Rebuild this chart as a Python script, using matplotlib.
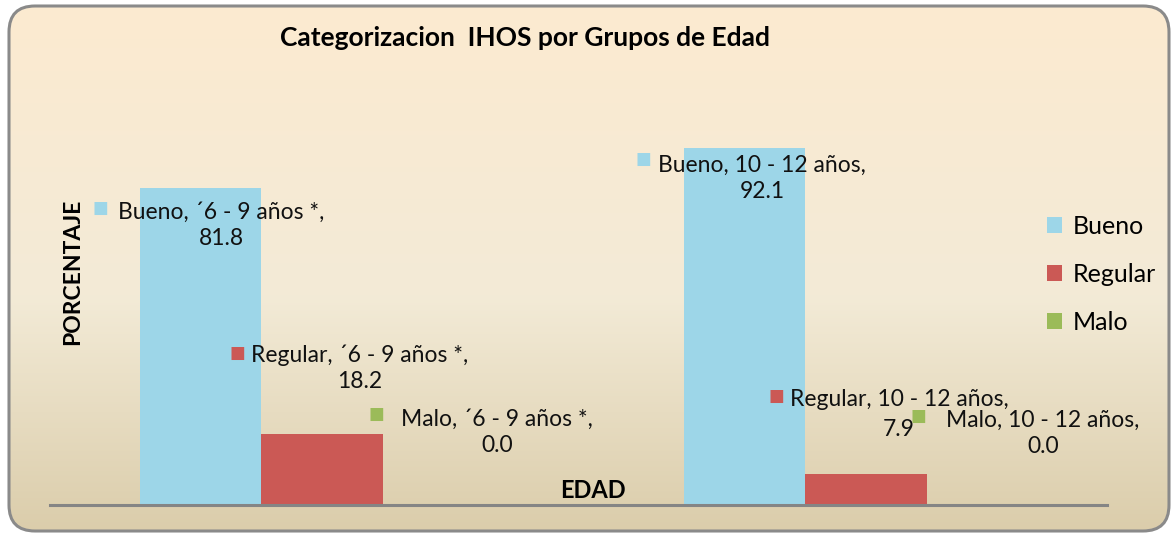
import numpy as np
import matplotlib
matplotlib.use("Agg")
import matplotlib.pyplot as plt
from matplotlib.patches import FancyBboxPatch
from matplotlib.colors import LinearSegmentedColormap

plt.rcParams["font.family"] = ["Lato", "DejaVu Sans"]

# ── datos ────────────────────────────────────────────────────────────────────
grupos  = ["´6 - 9 años *", "10 - 12 años"]
series  = ["Bueno", "Regular", "Malo"]
bueno   = [81.8, 92.1]
regular = [18.2, 7.9]
malo    = [0.0, 0.0]
valores = [bueno, regular, malo]

colores = ["#9DD6E8", "#CB5955", "#9BBB59"]

# desplazamiento de etiquetas (px) respecto a (centro barra, tope barra)
off_texto  = [[(20, -37), (17, -30)],
              [(38, 66), (33, 60)],
              [(54, 73), (56, 72)]]
off_marca  = [[(-101, -20), (-102, -11)],
              [(-85, 81), (-90, 78)],
              [(-67, 91), (-69, 89)]]
espaciado  = [[1.3, 1.3], [1.3, 1.55], [1.3, 1.3]]

W, H = 1176, 536
fig = plt.figure(figsize=(W / 100, H / 100), dpi=100)

# ── fondo con degradado y borde redondeado ───────────────────────────────────
bg = fig.add_axes([0, 0, 1, 1])
bg.set_xlim(0, W)
bg.set_ylim(H, 0)
bg.axis("off")
cmap = LinearSegmentedColormap.from_list(
    "fondo", [(0, "#FCEAD0"), (0.55, "#F3EBD7"), (1, "#DBCDAB")])
grad = np.linspace(0, 1, 256).reshape(-1, 1)
im = bg.imshow(grad, cmap=cmap, extent=(9, 1169, 531, 6), aspect="auto", zorder=0)
box = FancyBboxPatch((9, 6), 1160, 525, boxstyle="round,pad=0,rounding_size=26",
                     fc="none", ec="#8A8A8A", lw=2.2, zorder=2)
bg.add_patch(box)
im.set_clip_path(box)

# ── gráfico ──────────────────────────────────────────────────────────────────
ax = fig.add_axes([50 / W, 31 / H, 1057 / W, 387.5 / H])
ax.set_facecolor("none")
x = np.arange(len(grupos))
w = 0.2225
for i, (serie, vals) in enumerate(zip(series, valores)):
    pos = x + (i - 1) * w
    ax.bar(pos, vals, w, color=colores[i], label=serie, zorder=2)
    for j, (xp, v) in enumerate(zip(pos, vals)):
        ax.annotate(f"{serie}, {grupos[j]},\n{v:.1f}", xy=(xp, v),
                    xytext=off_texto[i][j], textcoords="offset pixels",
                    ha="center", va="center", multialignment="center",
                    fontsize=16.5, linespacing=espaciado[i][j],
                    color="#111111", zorder=4)
        ax.annotate("■", xy=(xp, v), xytext=off_marca[i][j],
                    textcoords="offset pixels", ha="center", va="center",
                    fontsize=12, color=colores[i], zorder=4,
                    family=["DejaVu Sans"])

ax.set_xlim(-0.5, 1.443)
ax.set_ylim(0, 100)
ax.set_xticks([])
ax.set_yticks([])
for s in ["top", "right", "left"]:
    ax.spines[s].set_visible(False)
ax.spines["bottom"].set_color("#858585")
ax.spines["bottom"].set_linewidth(2.2)

leg = ax.legend(loc="upper left", bbox_to_anchor=(0.9432, 0.748),
                frameon=False, fontsize=18, handlelength=0.62, handleheight=0.62,
                handletextpad=0.4, labelspacing=0.99, borderaxespad=0,
                borderpad=0)

fig.text(525 / W, 1 - 38 / H, "Categorizacion  IHOS por Grupos de Edad",
         ha="center", va="center", fontsize=19, fontweight="bold")
fig.text(73 / W, 1 - 272 / H, "PORCENTAJE", rotation=90,
         ha="center", va="center", fontsize=16.5, fontweight="bold")
fig.text(593 / W, 1 - 490 / H, "EDAD", ha="center", va="center",
         fontsize=17, fontweight="bold")

fig.savefig("out.png", dpi=100)
